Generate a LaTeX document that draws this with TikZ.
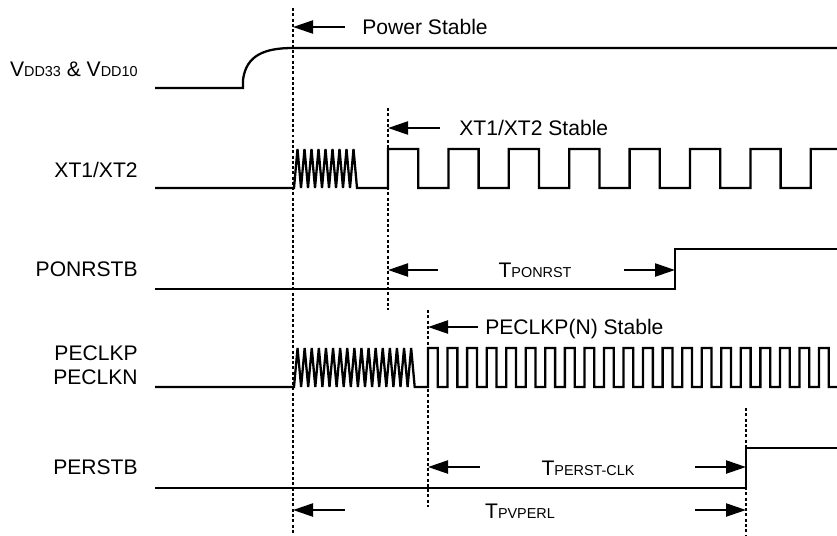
\documentclass[tikz,border=0pt]{standalone}
\usepackage{fontspec}
\setmainfont{Liberation Sans}
\usepackage{tikz}
\usetikzlibrary{arrows.meta, positioning}
\newcommand{\sml}[1]{{\fontsize{8.2}{10}\selectfont #1}}

\begin{document}
\begin{tikzpicture}[x=0.02cm, y=-0.02cm,
    wave/.style={line width=1.3pt, line join=miter},
    marker/.style={line width=1.3pt, dash pattern=on 1.7pt off 1.3pt},
    timearrow/.style={line width=1.3pt, -{Triangle[length=0.4cm, width=0.26cm]}},
    sig/.style={font=\fontsize{12}{14}\selectfont, inner sep=0pt, text height=8.6pt, text depth=0pt}]
  \useasboundingbox (0,0) rectangle (837,535);
  \coordinate (m1) at (293,8);
  \coordinate (m2) at (388,108);
  \coordinate (m3) at (428,310);
  \coordinate (m4) at (746,408);
  \coordinate (ponrise) at (675,249);
  \draw[marker] (m1) -- (293,535);
  \draw[marker] (m2) -- (388,310);
  \draw[marker] (m3) -- (428,507);
  \draw[marker] (m4) -- (746,535);

  \node[sig, anchor=east] (vdd) at (138,69) {V\sml{DD33} \& V\sml{DD10}};
  \node[sig, anchor=east] (xt) at (138,170) {XT1/XT2};
  \node[sig, anchor=east] (ponrstb) at (138,269) {PONRSTB};
  \node[sig, anchor=east] (peclkp) at (138,353) {PECLKP};
  \node[sig, anchor=east] (peclkn) at (138,377) {PECLKN};
  \node[sig, anchor=east] (perstb) at (138,467) {PERSTB};

  \begin{scope}
    \clip (0,0) rectangle (837,535);
    \draw[wave] (155,88) -- (243,88) -- (243,80) .. controls (246,55) and (265,48) .. (293,48) -- (837,48);
    \draw[wave] (155,188) -- (294,188)
      \foreach \k in {0,...,8} { -- ({297.5+7*\k},149) -- ({301+7*\k},188) }
      -- (388,188)
      \foreach \k in {0,...,6} { -- ({388+60.4*\k},149) -- ({418.2+60.4*\k},149) -- ({418.2+60.4*\k},188) -- ({448.4+60.4*\k},188) }
      -- (810.8,149) -- (837,149);
    \draw[wave] (155,289) -- (ponrise |- 0,289) -- (ponrise) -- (837,249);
    \draw[wave] (155,387) -- (294,387)
      \foreach \k in {0,...,16} { -- ({297.55+7.1*\k},348) -- ({301.1+7.1*\k},387) }
      -- (428,387)
      \foreach \k in {0,...,20} { -- ({428+19.55*\k},348) -- ({437.8+19.55*\k},348) -- ({437.8+19.55*\k},387) -- ({447.55+19.55*\k},387) };
    \draw[wave] (155,488) -- (746,488) -- (746,448) -- (837,448);
  \end{scope}

  \coordinate (pwrtail) at (345,27);
  \node[sig, right=0.34cm of pwrtail] (pwr) {Power Stable};
  \draw[timearrow] (pwrtail) -- (pwrtail -| m1);

  \coordinate (xttail) at (440,128);
  \node[sig, right=0.38cm of xttail] (xtstable) {XT1/XT2 Stable};
  \draw[timearrow] (xttail) -- (xttail -| m2);

  \coordinate (clktail) at (478,327);
  \node[sig, right=0.14cm of clktail] (clkstable) {PECLKP(N) Stable};
  \draw[timearrow] (clktail) -- (clktail -| m3);

  \node[sig] (tpon) at (535,270) {T\sml{PONRST}};
  \coordinate (ponL) at (438,270);
  \coordinate (ponR) at (624,270);
  \draw[timearrow] (ponL) -- (ponL -| m2);
  \draw[timearrow] (ponR) -- (ponR -| ponrise);

  \node[sig] (tpclk) at (588,468) {T\sml{PERST-CLK}};
  \coordinate (pclkL) at (480,467);
  \coordinate (pclkR) at (695,467);
  \draw[timearrow] (pclkL) -- (pclkL -| m3);
  \draw[timearrow] (pclkR) -- (pclkR -| m4);

  \node[sig] (tpv) at (520,511) {T\sml{PVPERL}};
  \coordinate (pvL) at (345,510);
  \coordinate (pvR) at (695,510);
  \draw[timearrow] (pvL) -- (pvL -| m1);
  \draw[timearrow] (pvR) -- (pvR -| m4);
\end{tikzpicture}
\end{document}
